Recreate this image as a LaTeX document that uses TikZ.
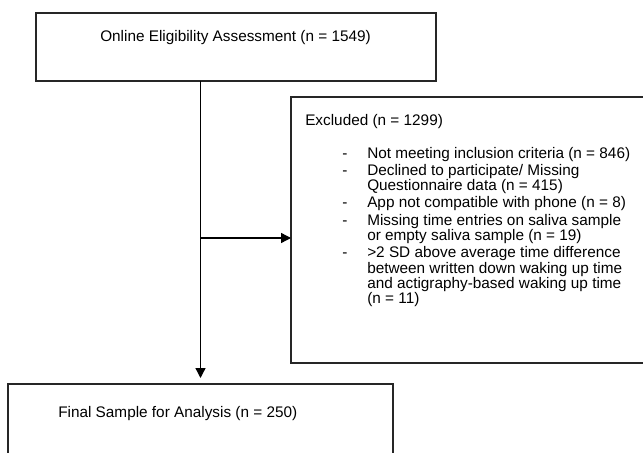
\documentclass[tikz,border=0pt]{standalone}
\usepackage{fontspec}
\setmainfont{Liberation Sans}
\usetikzlibrary{arrows.meta}
\begin{document}
\begin{tikzpicture}[x=0.75pt,y=-0.75pt,
  box/.style={draw=black!85, line width=1pt, inner sep=0pt, outer sep=0pt, rectangle},
  txt/.style={inner sep=0pt, font=\fontsize{11.5}{10.5}\selectfont, text=black},
  arr/.style={draw=black, line width=1pt, -{Triangle[length=7.5pt,width=7.5pt]}}]
\path[use as bounding box] (0,0) rectangle (643,453);
\clip (0,0) rectangle (643,453);
% boxes
\node[box, minimum width=300pt, minimum height=51pt] (top) at (236,47) {};
\node[box, minimum width=276.75pt, minimum height=199.5pt] (excl) at (475.5,230) {};
\node[box, minimum width=288.75pt, minimum height=72pt] (fin) at (200.5,432) {};
% texts
\node[txt, anchor=base west] (toptxt) at (100,42) {Online Eligibility Assessment (n = 1549)};
\node[txt, anchor=base west] (exctxt) at (305,126) {Excluded (n = 1299)};
\node[txt, anchor=base west] (list) at (342,158) {%
\begin{tabular}[t]{@{}p{18.75pt}@{}l@{}}
- & Not meeting inclusion criteria (n = 846)\\[1.5pt]
- & Declined to participate/ Missing\\
  & Questionnaire data (n = 415)\\[1.5pt]
- & App not compatible with phone (n = 8)\\[1.5pt]
- & Missing time entries on saliva sample\\
  & or empty saliva sample (n = 19)\\[1.5pt]
- & >2 SD above average time difference\\
  & between written down waking up time\\
  & and actigraphy-based waking up time\\
  & (n = 11)
\end{tabular}};
\node[txt, anchor=base west] (fintxt) at (58,417) {Final Sample for Analysis (n = 250)};
% connectors
\coordinate (split) at (200.5,238);
\draw[arr, shorten >=4.5pt] (top.south -| fin.north) -- (fin.north);
\draw[arr] (split) -- (split -| excl.west);
\end{tikzpicture}
\end{document}
